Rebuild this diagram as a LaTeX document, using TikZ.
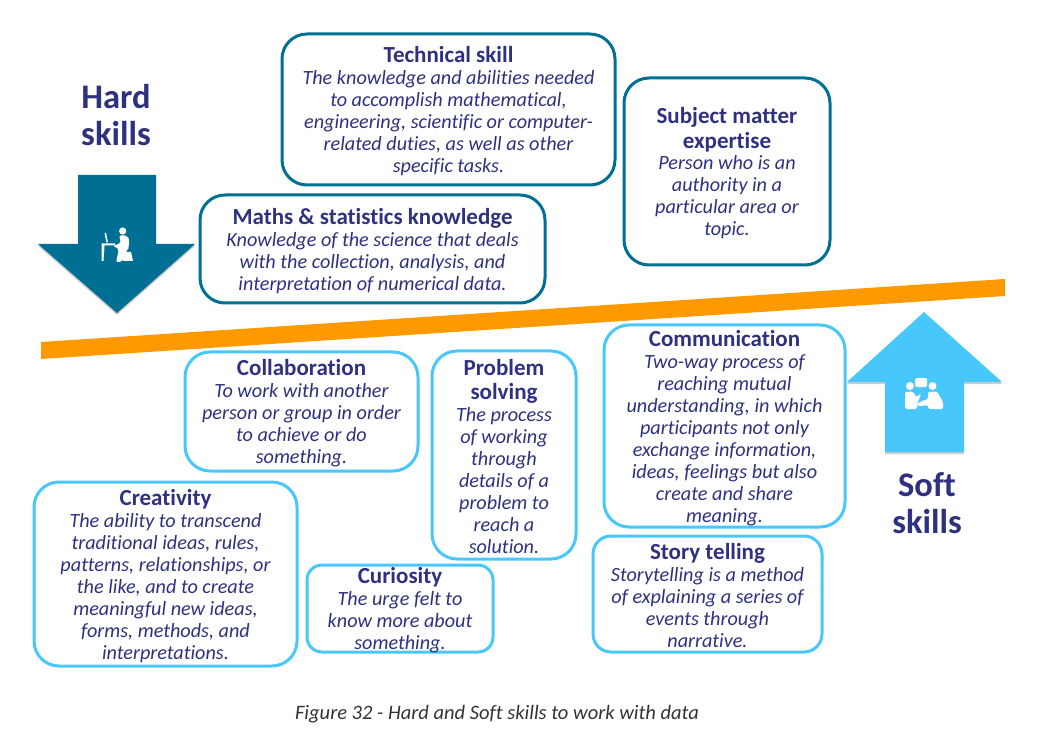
\documentclass[tikz,border=0pt]{standalone}
\usepackage{fontspec}
\setmainfont{Carlito}[Ligatures=NoCommon]
\usetikzlibrary{shadows}
\definecolor{hardblue}{HTML}{006F94}
\definecolor{softblue}{HTML}{47C7FC}
\definecolor{navytext}{HTML}{2E3180}
\definecolor{barorange}{HTML}{FF9900}
\newcommand{\boxtitle}[1]{{\fontsize{23}{22}\selectfont\bfseries\upshape\rule{0pt}{20pt}#1}}

\begin{document}
\begin{tikzpicture}[
    x=1pt, y=-1pt,
    box/.style={draw, line width=3pt, rounded corners=25pt, align=center, inner sep=0pt,
                text=navytext, font=\fontsize{20.2}{22}\selectfont\itshape},
    hardbox/.style={box, draw=hardblue},
    softbox/.style={box, draw=softblue},
    heading/.style={align=center, text=navytext, font=\fontsize{34.5}{37}\selectfont\bfseries},
    arrowshadow/.style={drop shadow={shadow xshift=0pt, shadow yshift=-2pt, opacity=.2, fill=black}}
]
    \useasboundingbox (0,0) rectangle (1039,735);

    % Bar
    \fill[barorange] (41,342) -- (1005,279) -- (1005,296) -- (41,359) -- cycle;

    % Hard skills
    \node[heading] (hard) at (116,115) {Hard\\skills};
    \fill[hardblue, arrowshadow] (78,175) -- (156,175) -- (156,244) -- (195,244)
        -- (117,313) -- (38,244) -- (78,244) -- cycle;
    % person at a desk
    \fill[white] (122.7,231) circle (3.6);
    \fill[white, rounded corners=2pt] (119,235.5) -- (127,235.5) -- (129.5,240) -- (128,251)
        -- (125,251) -- (122,262) -- (116,262) -- (119,249) -- (113,246) -- (121,243) -- cycle;
    \fill[white] (101.5,243.5) -- (115,243.5) -- (115,245.5) -- (104.5,245.5) -- (103.5,261) -- (101.5,261) -- cycle;
    \fill[white] (104.5,233) -- (106,233) -- (108,242.5) -- (106.5,242.5) -- cycle;
    \fill[white] (123.5,252) -- (131,252) -- (133,261) -- (122.5,261) -- cycle;

    % Soft skills
    \node[heading] (soft) at (927,503) {Soft\\skills};
    \fill[softblue, arrowshadow] (885,452) -- (964,452) -- (964,382) -- (1002,382)
        -- (924,312) -- (847,382) -- (885,382) -- cycle;
    % two people talking
    \fill[white] (910,386) circle (4);
    \fill[white] (932.5,386) circle (4);
    \fill[white, rounded corners=1.5pt] (915,378) rectangle (927,387);
    \fill[white, rounded corners=1.5pt] (905,392) -- (913,391.5) -- (916,397) -- (921,393.5) -- (919,400)
        -- (917,403) -- (917,409) -- (905,409) -- cycle;
    \fill[white, rounded corners=1.5pt] (928,392) -- (937,391.5) -- (943,402) -- (943,409) -- (928,409)
        -- (928,405) -- (921,406) -- (915,405) -- (922,401) -- (928,399) -- cycle;

    % Hard skill boxes
    \node[hardbox, minimum width=333pt, minimum height=151pt] (technical) at (448.5,109.5) {
        \boxtitle{Technical skill}\\
        The knowledge and abilities needed\\
        to accomplish mathematical,\\
        engineering, scientific or computer-\\
        related duties, as well as other\\
        specific tasks.
    };
    \node[hardbox, minimum width=345pt, minimum height=108pt] (maths) at (372.5,249) {
        \boxtitle{Maths \& statistics knowledge}\\
        Knowledge of the science that deals\\
        with the collection, analysis, and\\
        interpretation of numerical data.
    };
    \node[hardbox, minimum width=206pt, minimum height=187pt] (subject) at (727,171.5) {
        \boxtitle{Subject matter}\\
        \boxtitle{expertise}\\[-1pt]
        Person who is an\\
        authority in a\\
        particular area or\\
        topic.
    };

    % Soft skill boxes
    \node[softbox, minimum width=233pt, minimum height=119pt] (collaboration) at (301.5,411.5) {
        \boxtitle{Collaboration}\\
        To work with another\\
        person or group in order\\
        to achieve or do\\
        something.
    };
    \node[softbox, minimum width=144pt, minimum height=208pt] (problem) at (504,455) {
        \boxtitle{Problem}\\[2pt]
        \boxtitle{solving}\\
        The process\\
        of working\\
        through\\
        details of a\\
        problem to\\
        reach a\\
        solution.
    };
    \node[softbox, minimum width=241pt, minimum height=202pt] (communication) at (724.5,426) {
        \boxtitle{Communication}\\
        Two-way process of\\
        reaching mutual\\
        understanding, in which\\
        participants not only\\
        exchange information,\\
        ideas, feelings but also\\
        create and share\\
        meaning.
    };
    \node[softbox, minimum width=263pt, minimum height=184pt] (creativity) at (165.5,574) {
        \boxtitle{Creativity}\\
        The ability to transcend\\
        traditional ideas, rules,\\
        patterns, relationships, or\\
        the like, and to create\\
        meaningful new ideas,\\
        forms, methods, and\\
        interpretations.
    };
    \node[softbox, rounded corners=15pt, inner ysep=-5pt, minimum width=186pt, minimum height=87pt] (curiosity) at (400,608.5) {
        \boxtitle{Curiosity}\\
        The urge felt to\\
        know more about\\
        something.
    };
    \node[softbox, rounded corners=18pt, minimum width=229pt, minimum height=116pt] (story) at (707.5,594) {
        \boxtitle{Story telling}\\
        Storytelling is a method\\
        of explaining a series of\\
        events through\\
        narrative.
    };

    % Caption
    \node[font=\fontsize{20.5}{24}\selectfont\itshape, text=black!80] (caption) at (497,714) {Figure 32 - Hard and Soft skills to work with data};
\end{tikzpicture}
\end{document}
